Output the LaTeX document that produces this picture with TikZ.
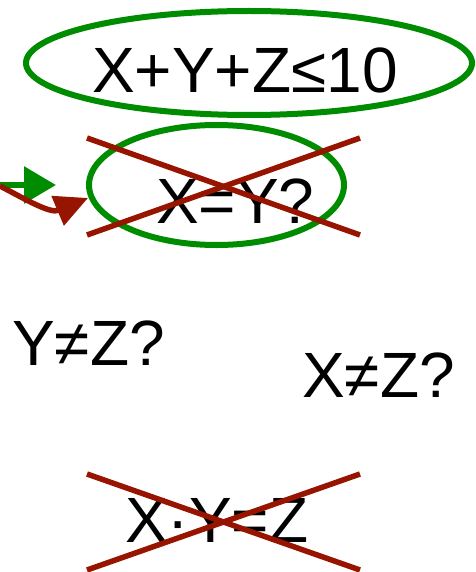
\documentclass[tikz,border=0pt]{standalone}
\usepackage{fontspec}
\setmainfont{Liberation Sans}
\usetikzlibrary{arrows.meta,shapes.geometric}
\definecolor{cgreen}{RGB}{0,140,0}
\definecolor{cred}{RGB}{150,20,0}
\begin{document}
\begin{tikzpicture}[x=1pt,y=-1pt,
  lbl/.style={anchor=base west,inner sep=0pt,font=\fontsize{64}{70}\selectfont},
  oval/.style={ellipse,draw=cgreen,line width=6pt,inner sep=0pt},
  strike/.style={draw=cred,line width=5.5pt},
  garrow/.style={draw=cgreen,line width=6pt,-{Triangle[length=32pt,width=36pt]}},
  rarrow/.style={draw=cred,line width=5.5pt,-{Triangle[length=33pt,width=31pt]}}]
\useasboundingbox (0,0) rectangle (475,572);
% ellipses
\node[oval,minimum width=446pt,minimum height=104pt] (top) at (249,63) {};
\node[oval,minimum width=255pt,minimum height=120pt] (mid) at (216.5,185) {};
% texts
\node[lbl] (t1) at (92,93) {X+Y+Z≤10};
\node[lbl] (t2) at (156,223) {X=Y?};
\node[lbl] (t3) at (12,365) {Y≠Z?};
\node[lbl] (t4) at (302,397) {X≠Z?};
\node[lbl] (t5) at (125,542) {X·Y=Z};
% arrows
\coordinate (gs) at (0,185);
\coordinate (ge) at (56,185);
\coordinate (rs) at (0,186);
\coordinate (re) at (88,198);
\draw[garrow] (gs) -- (ge);
\draw[rarrow] (rs) .. controls (25,199) and (50,214) .. (re);
% crosses
\coordinate (a1) at (87,138); \coordinate (a2) at (360,235);
\coordinate (a3) at (87,235); \coordinate (a4) at (360,138);
\draw[strike] (a1) -- (a2);
\draw[strike] (a3) -- (a4);
\coordinate (b1) at (87,474); \coordinate (b2) at (360,570);
\coordinate (b3) at (87,570); \coordinate (b4) at (360,474);
\draw[strike] (b1) -- (b2);
\draw[strike] (b3) -- (b4);
\end{tikzpicture}
\end{document}
